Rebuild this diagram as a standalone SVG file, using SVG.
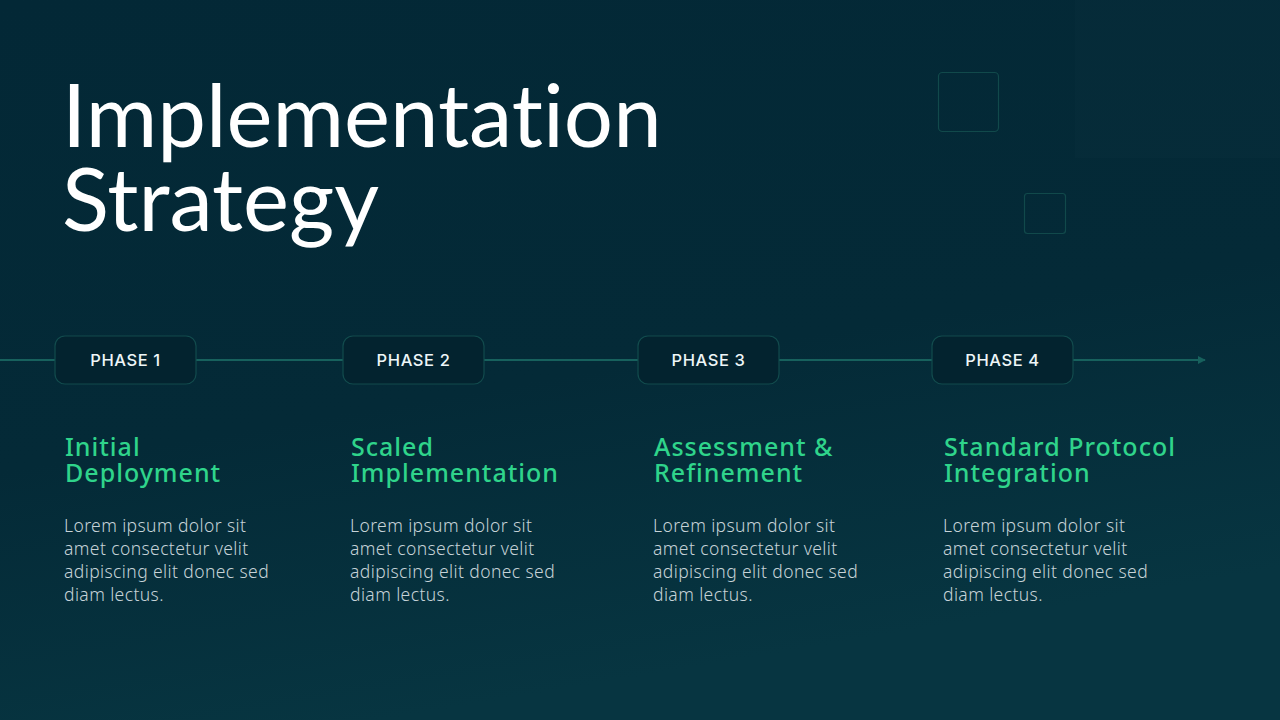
<svg xmlns="http://www.w3.org/2000/svg" width="1280" height="720" viewBox="0 0 1280 720">
  <defs>
    <linearGradient id="bg" x1="0" y1="0" x2="0.3" y2="1">
      <stop offset="0" stop-color="#032836"/>
      <stop offset="0.6" stop-color="#042a37"/>
      <stop offset="1" stop-color="#073541"/>
    </linearGradient>
    <marker id="arrow" viewBox="0 0 10 10" refX="9" refY="5" markerWidth="4" markerHeight="4" orient="auto">
      <path d="M0,0 L10,5 L0,10 z" fill="#17615d"/>
    </marker>
    <style>
      text { font-variant-ligatures: none; }
      .title { font-family: Lato, "Noto Sans", sans-serif; font-size: 87px; font-weight: 400; fill: #ffffff; }
      .pbox { fill: #03232f; stroke: #124b4d; stroke-width: 1.2; }
      .plabel { font-family: Inter, "Noto Sans", sans-serif; font-size: 16.5px; font-weight: 500; fill: #eef6f8; text-anchor: middle; letter-spacing: 0.6px; }
      .head { font-family: "Noto Sans", Inter, sans-serif; font-size: 25px; font-weight: 500; fill: #2fd48b; letter-spacing: 1px; }
      .body { font-family: "Noto Sans", Inter, sans-serif; font-size: 17.5px; font-weight: 300; fill: #c6d3d8; letter-spacing: 0.4px; }
      .deco { fill: none; stroke: #11494b; stroke-width: 1.2; }
    </style>
  </defs>
  <rect width="1280" height="720" fill="url(#bg)"/>
  <rect x="1075" y="0" width="205" height="158" fill="#ffffff" opacity="0.01"/>

  <g id="decor">
    <rect class="deco" x="938.5" y="72.5" width="60" height="59" rx="4"/>
    <rect class="deco" x="1024.5" y="193.5" width="41" height="40" rx="3"/>
  </g>

  <g id="title">
    <text class="title" x="62" y="147">Implementation</text>
    <text class="title" x="62" y="231">Strategy</text>
  </g>

  <g id="connectors">
    <line x1="0" y1="360" x2="55" y2="360" stroke="#17615d" stroke-width="2"/>
    <line x1="196" y1="360" x2="343" y2="360" stroke="#17615d" stroke-width="2"/>
    <line x1="484" y1="360" x2="638" y2="360" stroke="#17615d" stroke-width="2"/>
    <line x1="779" y1="360" x2="932" y2="360" stroke="#17615d" stroke-width="2"/>
    <line x1="1073" y1="360" x2="1205" y2="360" stroke="#17615d" stroke-width="2" marker-end="url(#arrow)"/>
  </g>

  <g id="phase1">
    <rect class="pbox" x="55" y="336" width="141" height="48" rx="10"/>
    <text class="plabel" x="125.5" y="366">PHASE 1</text>
    <text class="head" x="65" y="456">Initial</text>
    <text class="head" x="65" y="482">Deployment</text>
    <text class="body" x="64" y="532">Lorem ipsum dolor sit</text>
    <text class="body" x="64" y="555">amet consectetur velit</text>
    <text class="body" x="64" y="578">adipiscing elit donec sed</text>
    <text class="body" x="64" y="601">diam lectus.</text>
  </g>

  <g id="phase2">
    <rect class="pbox" x="343" y="336" width="141" height="48" rx="10"/>
    <text class="plabel" x="413.5" y="366">PHASE 2</text>
    <text class="head" x="351" y="456">Scaled</text>
    <text class="head" x="351" y="482">Implementation</text>
    <text class="body" x="350" y="532">Lorem ipsum dolor sit</text>
    <text class="body" x="350" y="555">amet consectetur velit</text>
    <text class="body" x="350" y="578">adipiscing elit donec sed</text>
    <text class="body" x="350" y="601">diam lectus.</text>
  </g>

  <g id="phase3">
    <rect class="pbox" x="638" y="336" width="141" height="48" rx="10"/>
    <text class="plabel" x="708.5" y="366">PHASE 3</text>
    <text class="head" x="654" y="456">Assessment &amp;</text>
    <text class="head" x="654" y="482">Refinement</text>
    <text class="body" x="653" y="532">Lorem ipsum dolor sit</text>
    <text class="body" x="653" y="555">amet consectetur velit</text>
    <text class="body" x="653" y="578">adipiscing elit donec sed</text>
    <text class="body" x="653" y="601">diam lectus.</text>
  </g>

  <g id="phase4">
    <rect class="pbox" x="932" y="336" width="141" height="48" rx="10"/>
    <text class="plabel" x="1002.5" y="366">PHASE 4</text>
    <text class="head" x="944" y="456">Standard Protocol</text>
    <text class="head" x="944" y="482">Integration</text>
    <text class="body" x="943" y="532">Lorem ipsum dolor sit</text>
    <text class="body" x="943" y="555">amet consectetur velit</text>
    <text class="body" x="943" y="578">adipiscing elit donec sed</text>
    <text class="body" x="943" y="601">diam lectus.</text>
  </g>
</svg>
